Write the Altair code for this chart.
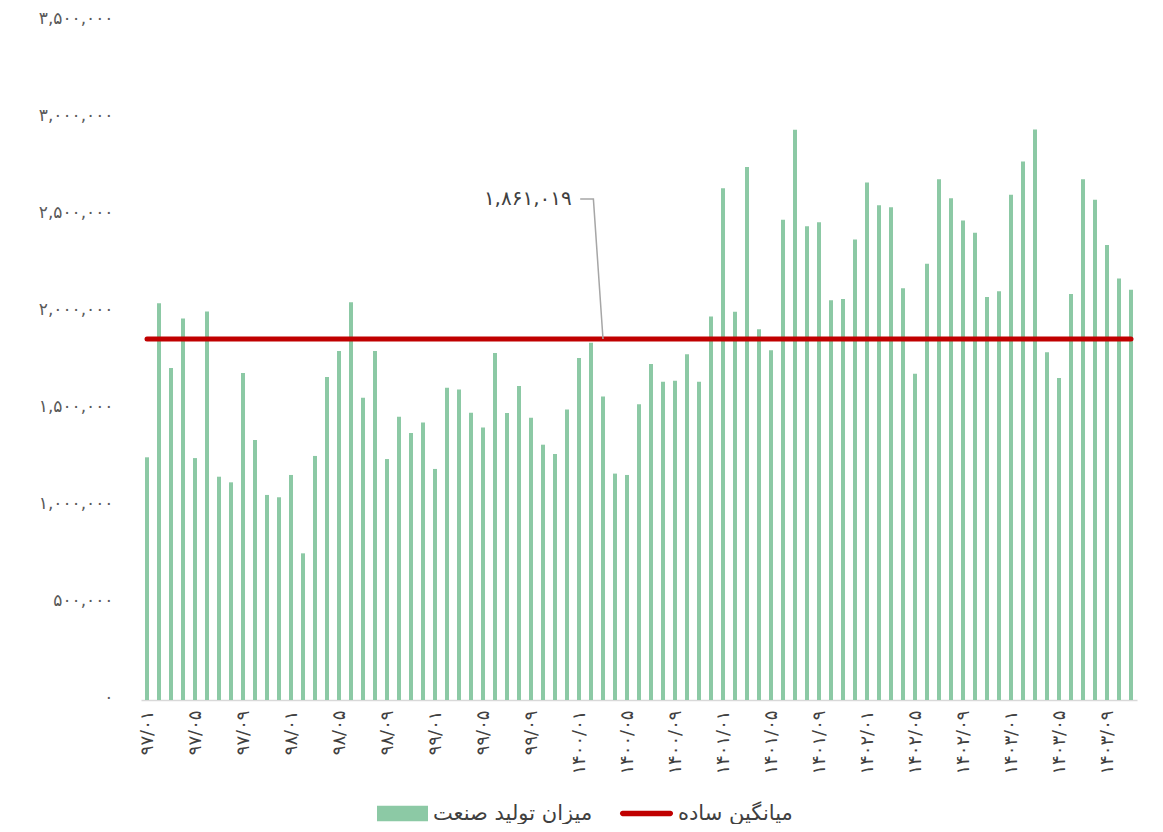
import json
import altair as alt
import pandas as pd

# ---- data ----
bar_series_name = "میزان تولید صنعت"
mean_series_name = "میانگین ساده"

production = [
    1251000, 2045000, 1711000, 1966000, 1247000, 2003000, 1151000, 1122000, 1686000, 1340000,
    1057000, 1045000, 1160000, 756000, 1258000, 1665000, 1799000, 2050000, 1558000, 1799000,
    1242000, 1460000, 1376000, 1430000, 1191000, 1610000, 1601000, 1481000, 1405000, 1789000,
    1479000, 1619000, 1455000, 1316000, 1268000, 1498000, 1763000, 1842000, 1565000, 1167000,
    1160000, 1524000, 1732000, 1640000, 1646000, 1782000, 1640000, 1977000, 2638000, 2001000,
    2748000, 1911000, 1803000, 2476000, 2939000, 2442000, 2462000, 2061000, 2067000, 2374000,
    2668000, 2550000, 2540000, 2123000, 1682000, 2249000, 2684000, 2586000, 2472000, 2408000,
    2077000, 2107000, 2604000, 2776000, 2941000, 1793000, 1660000, 2093000, 2684000, 2578000,
    2345000, 2173000, 2115000,
]

x_tick_labels = [
    "۹۷/۰۱", "۹۷/۰۵", "۹۷/۰۹", "۹۸/۰۱", "۹۸/۰۵", "۹۸/۰۹", "۹۹/۰۱", "۹۹/۰۵", "۹۹/۰۹",
    "۱۴۰۰/۰۱", "۱۴۰۰/۰۵", "۱۴۰۰/۰۹", "۱۴۰۱/۰۱", "۱۴۰۱/۰۵", "۱۴۰۱/۰۹",
    "۱۴۰۲/۰۱", "۱۴۰۲/۰۵", "۱۴۰۲/۰۹", "۱۴۰۳/۰۱", "۱۴۰۳/۰۵", "۱۴۰۳/۰۹",
]
y_tick_values = [0, 500000, 1000000, 1500000, 2000000, 2500000, 3000000, 3500000]
y_tick_labels = ["۰", "۵۰۰,۰۰۰", "۱,۰۰۰,۰۰۰", "۱,۵۰۰,۰۰۰", "۲,۰۰۰,۰۰۰",
                 "۲,۵۰۰,۰۰۰", "۳,۰۰۰,۰۰۰", "۳,۵۰۰,۰۰۰"]

mean_value = 1861019
mean_label = "۱,۸۶۱,۰۱۹"

# annotation anchor points (month index, value)
callout_x = [36.1, 37.2, 38.0]
callout_y = [2582000, 2582000, mean_value]
callout_text_x = 35.4

GREEN = "#8CC9A5"
RED = "#C00000"
FONT = "DejaVu Sans"

n = len(production)
bars_df = pd.DataFrame({"idx": list(range(n)), "value": production,
                        "series": [bar_series_name] * n})
mean_df = pd.DataFrame({"x0": [0], "x1": [n - 1], "value": [mean_value],
                        "series": [mean_series_name]})
leader_df = pd.DataFrame({"order": [0, 1, 2], "x": callout_x, "y": callout_y})
label_df = pd.DataFrame({"x": [callout_text_x], "y": [callout_y[0]], "text": [mean_label]})

xscale = alt.Scale(domain=[-0.5, n - 0.5], nice=False, zero=False, padding=0)
yscale = alt.Scale(domain=[0, 3500000], nice=False, padding=0)

x_expr = json.dumps(x_tick_labels, ensure_ascii=False) + "[round(datum.value / 4)]"
y_expr = json.dumps(y_tick_labels, ensure_ascii=False) + "[round(datum.value / 500000)]"

x_axis = alt.Axis(values=list(range(0, n, 4)), labelExpr=x_expr, labelAngle=270,
                  labelFontSize=18, labelColor="#404040", labelFont=FONT,
                  labelPadding=10, ticks=False, grid=False, domainColor="#d9d9d9",
                  domainWidth=1.5, title=None, labelOverlap=False)
y_axis = alt.Axis(values=y_tick_values, labelExpr=y_expr, labelFontSize=17,
                  labelColor="#595959", labelFont=FONT, labelPadding=28,
                  ticks=False, grid=False, domain=False, title=None, labelOffset=-3)

bars = alt.Chart(bars_df).mark_bar(size=4).encode(
    x=alt.X("idx:Q", scale=xscale, axis=x_axis),
    y=alt.Y("value:Q", scale=yscale, axis=y_axis),
    fill=alt.Fill("series:N", scale=alt.Scale(domain=[bar_series_name], range=[GREEN]),
                  legend=alt.Legend(orient="none", legendX=236, legendY=767, title=None,
                                    symbolType="M-1,-0.3H1V0.3H-1Z", symbolSize=2601,
                                    symbolStrokeWidth=0, labelFontSize=21,
                                    labelColor="#404040", labelFont=FONT, padding=0,
                                    labelOffset=5)),
)

pill = "M-0.9,-0.1H0.9A0.1,0.1 0 0 1 0.9,0.1H-0.9A0.1,0.1 0 0 1 -0.9,-0.1Z"
mean_rule = alt.Chart(mean_df).mark_rule(strokeWidth=5, strokeCap="round").encode(
    x=alt.X("x0:Q", scale=xscale),
    x2="x1:Q",
    y=alt.Y("value:Q", scale=yscale),
    stroke=alt.Stroke("series:N", scale=alt.Scale(domain=[mean_series_name], range=[RED]),
                      legend=alt.Legend(orient="none", legendX=479, legendY=766, title=None,
                                        symbolType=pill, symbolSize=2809,
                                        symbolFillColor=RED, symbolStrokeWidth=0,
                                        labelFontSize=21,
                                        labelColor="#404040", labelFont=FONT, padding=0,
                                        labelOffset=5)),
)

leader = alt.Chart(leader_df).mark_line(color="#a6a6a6", strokeWidth=1.5).encode(
    x=alt.X("x:Q", scale=xscale),
    y=alt.Y("y:Q", scale=yscale),
    order="order:Q",
)

label = alt.Chart(label_df).mark_text(align="right", baseline="middle", fontSize=20,
                                      color="#404040", font=FONT).encode(
    x=alt.X("x:Q", scale=xscale),
    y=alt.Y("y:Q", scale=yscale),
    text="text:N",
)

chart = alt.layer(bars, mean_rule, leader, label).properties(
    width=996, height=679,
    autosize=alt.AutoSizeParams(type="none"),
    padding={"left": 133, "top": 13, "right": 18, "bottom": 124},
    background="white",
).configure_view(stroke=None)

chart.save("out.html", embed_options={"renderer": "svg", "actions": False})
